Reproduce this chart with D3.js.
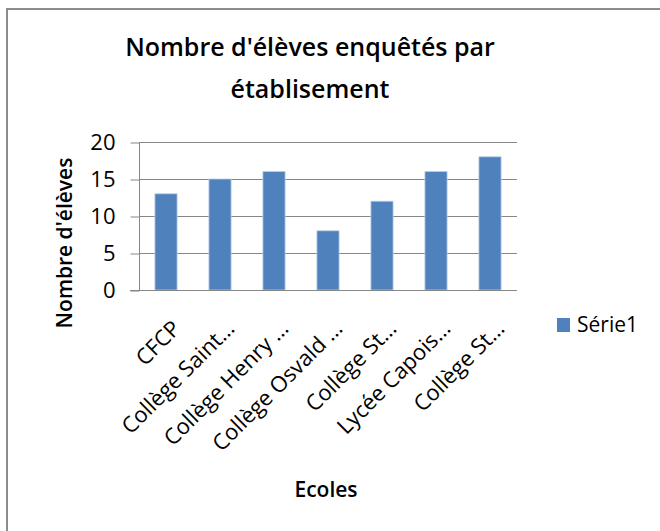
<!DOCTYPE html>
<html>
<head>
<meta charset="utf-8">
<script src="https://cdn.jsdelivr.net/npm/d3@7"></script>
<style>
  html, body { margin: 0; padding: 0; background: #fff; }
  text { font-family: "Open Sans", "Noto Sans", sans-serif; fill: #000; }
</style>
</head>
<body>
<svg id="chart" width="660" height="531"></svg>
<script>
const categories = ["CFCP", "Collège Saint…", "Collège Henry …", "Collège Osvald …", "Collège St…", "Lycée Capois…", "Collège St…"];
const values = [13, 15, 16, 8, 12, 16, 18];
const yTicks = [0, 5, 10, 15, 20];
const seriesName = "Série1";
const titleLines = ["Nombre d'élèves enquêtés par", "établisement"];
const yTitle = "Nombre d'élèves";
const xTitle = "Ecoles";

(function () {
const svg = d3.select("#chart");
const barColor = "#4F81BD";
const gridColor = "#868686";

// frame
svg.append("path")
  .attr("d", "M7,531 V9 H660")
  .attr("fill", "none").attr("stroke", "#8c8c8c").attr("stroke-width", 2);

const pLeft = 139, pRight = 517, pTop = 142, pBottom = 290;
const x = d3.scaleBand().domain(d3.range(categories.length)).range([pLeft, pRight]).paddingInner(0.59).paddingOuter(0.295);
const y = d3.scaleLinear().domain([0, 20]).range([pBottom, pTop]);

// gridlines
svg.append("g").selectAll("line").data(yTicks.filter(d => d > 0)).join("line")
  .attr("x1", pLeft).attr("x2", pRight)
  .attr("y1", d => Math.round(y(d)) + 0.5).attr("y2", d => Math.round(y(d)) + 0.5)
  .attr("stroke", gridColor).attr("stroke-width", 1);

// y axis
const yAxis = d3.axisLeft(y).tickValues(yTicks).tickSize(9).tickPadding(15);
const gy = svg.append("g").attr("transform", `translate(${pLeft + 0.5},0.5)`).call(yAxis);
gy.select(".domain").attr("stroke", gridColor).attr("d", `M0,${pTop}V${pBottom}`);
gy.selectAll(".tick line").attr("stroke", gridColor);
gy.selectAll(".tick text").style("font-size", "22px").style("font-family", "Open Sans").attr("fill", "#000");

// bars
svg.append("g").selectAll("rect").data(values).join("rect")
  .attr("x", (d, i) => x(i))
  .attr("y", d => y(d))
  .attr("width", x.bandwidth())
  .attr("height", d => pBottom - y(d))
  .attr("fill", barColor)
  .attr("stroke", "#b9cde5").attr("stroke-width", 0.8);

// x axis line
svg.append("line").attr("x1", 130).attr("x2", pRight)
  .attr("y1", pBottom + 0.5).attr("y2", pBottom + 0.5)
  .attr("stroke", gridColor);

// x labels
svg.append("g").selectAll("text").data(categories).join("text")
  .attr("transform", (d, i) => `translate(${x(i) + x.bandwidth() / 2 + 5},${pBottom + 29}) rotate(-45)`)
  .attr("text-anchor", "end")
  .attr("dy", "0.7em")
  .style("font-size", "22px")
  .text(d => d);

// title
svg.append("g").selectAll("text").data(titleLines).join("text")
  .attr("x", 310).attr("y", (d, i) => 56 + i * 42)
  .attr("text-anchor", "middle")
  .style("font-size", "25px").style("font-weight", "600")
  .text(d => d);

// y title
svg.append("text")
  .attr("transform", "translate(72,243) rotate(-90)")
  .attr("text-anchor", "middle")
  .style("font-size", "21px").style("font-weight", "600")
  .text(yTitle);

// x title
svg.append("text")
  .attr("x", 326).attr("y", 497)
  .attr("text-anchor", "middle")
  .style("font-size", "21px").style("font-weight", "600")
  .text(xTitle);

// legend
const lg = svg.append("g");
lg.append("rect").attr("x", 557).attr("y", 318).attr("width", 13).attr("height", 14).attr("fill", barColor);
lg.append("text").attr("x", 577).attr("y", 332).style("font-size", "21px").text(seriesName);
})();
</script>
</body>
</html>
